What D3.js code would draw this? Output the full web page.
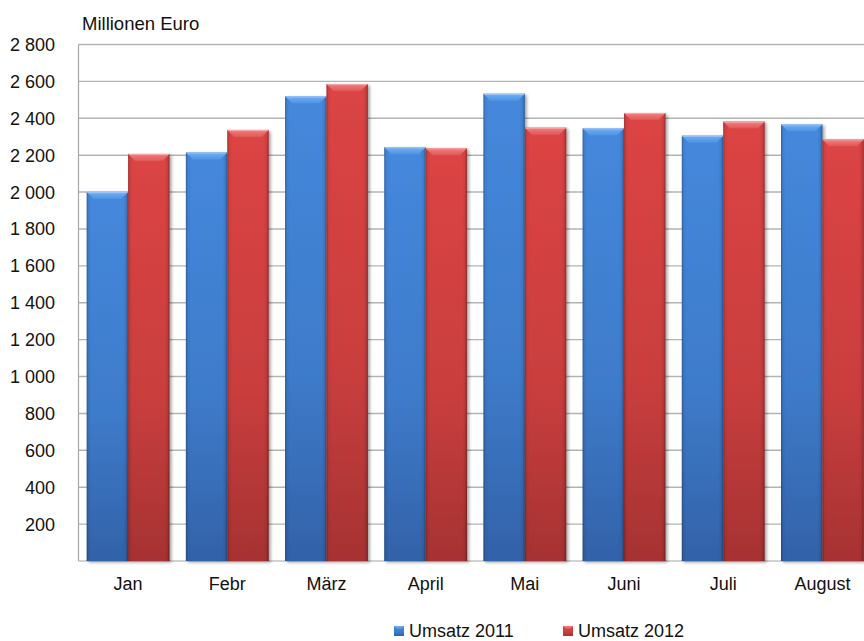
<!DOCTYPE html>
<html>
<head>
<meta charset="utf-8">
<script src="https://cdn.jsdelivr.net/npm/d3@7"></script>
<style>
  html, body { margin: 0; padding: 0; background: #fff; }
  svg { display: block; }
  text { font-family: "Liberation Sans", Arial, sans-serif; fill: #111; }
</style>
</head>
<body>
<svg id="chart" width="864" height="641"></svg>
<script>
const categories = ["Jan", "Febr", "März", "April", "Mai", "Juni", "Juli", "August"];
const seriesNames = ["Umsatz 2011", "Umsatz 2012"];
const umsatz2011 = [2000, 2215, 2519, 2243, 2533, 2346, 2306, 2367];
const umsatz2012 = [2207, 2337, 2586, 2238, 2349, 2429, 2382, 2286];
const yTicks = [200, 400, 600, 800, 1000, 1200, 1400, 1600, 1800, 2000, 2200, 2400, 2600, 2800];
const yTitle = "Millionen Euro";

const seriesValues = [umsatz2011, umsatz2012];
const palette = [
  { top: "#4588dc", bottom: "#3262a8", bevel: "#72b0f5", bevelDark: "#4f93e4" },
  { top: "#dc4444", bottom: "#a63232", bevel: "#f58080", bevelDark: "#e05757" }
];

const svg = d3.select("#chart");
const W = 864, H = 641;
const plot = { left: 78.5, right: 872, top: 44.5, bottom: 561 };

const fmt = d3.formatLocale({ decimal: ",", thousands: " ", grouping: [3], currency: ["", "€"] }).format(",d");

const x0 = d3.scaleBand().domain(categories).range([plot.left, plot.right]).paddingInner(0).paddingOuter(0);
const gap = x0.bandwidth() * 0.165;
const x1 = d3.scaleBand().domain(seriesNames).range([gap / 2, x0.bandwidth() - gap / 2]).padding(0);
const y = d3.scaleLinear().domain([0, 2800]).range([plot.bottom, plot.top]);

// defs
const defs = svg.append("defs");
palette.forEach((p, i) => {
  const g = defs.append("linearGradient").attr("id", "body" + i).attr("x1", 0).attr("y1", 0).attr("x2", 0).attr("y2", 1);
  g.append("stop").attr("offset", "0%").attr("stop-color", p.top);
  g.append("stop").attr("offset", "60%").attr("stop-color", d3.interpolateRgb(p.top, p.bottom)(0.35));
  g.append("stop").attr("offset", "100%").attr("stop-color", p.bottom);
  const b = defs.append("linearGradient").attr("id", "bevel" + i).attr("x1", 0).attr("y1", 0).attr("x2", 0).attr("y2", 1);
  b.append("stop").attr("offset", "0%").attr("stop-color", p.bevel);
  b.append("stop").attr("offset", "100%").attr("stop-color", p.bevelDark);
});
const edge = defs.append("linearGradient").attr("id", "edge").attr("x1", 0).attr("y1", 0).attr("x2", 1).attr("y2", 0);
edge.append("stop").attr("offset", "0%").attr("stop-color", "#000").attr("stop-opacity", 0.28);
edge.append("stop").attr("offset", "5%").attr("stop-color", "#000").attr("stop-opacity", 0.05);
edge.append("stop").attr("offset", "12%").attr("stop-color", "#000").attr("stop-opacity", 0);
edge.append("stop").attr("offset", "88%").attr("stop-color", "#000").attr("stop-opacity", 0);
edge.append("stop").attr("offset", "95%").attr("stop-color", "#000").attr("stop-opacity", 0.08);
edge.append("stop").attr("offset", "100%").attr("stop-color", "#000").attr("stop-opacity", 0.35);
const shadow = defs.append("filter").attr("id", "shadow").attr("x", "-20%").attr("y", "-5%").attr("width", "150%").attr("height", "115%");
shadow.append("feDropShadow").attr("dx", 2).attr("dy", 1.5).attr("stdDeviation", 1.6).attr("flood-color", "#000").attr("flood-opacity", 0.35);

// gridlines
svg.append("g").selectAll("line").data(yTicks).join("line")
  .attr("x1", plot.left).attr("x2", W)
  .attr("y1", d => y(d)).attr("y2", d => y(d))
  .attr("stroke", "#b3b3b3").attr("stroke-width", 1.4);

// axes
svg.append("line").attr("x1", plot.left).attr("x2", plot.left).attr("y1", plot.top).attr("y2", plot.bottom)
  .attr("stroke", "#a6a6a6").attr("stroke-width", 1.2);
svg.append("line").attr("x1", plot.left).attr("x2", W).attr("y1", plot.bottom).attr("y2", plot.bottom)
  .attr("stroke", "#a6a6a6").attr("stroke-width", 1.2);

// y labels
svg.append("g").selectAll("text").data(yTicks).join("text")
  .attr("x", 55).attr("y", d => y(d)).attr("dy", "0.36em")
  .attr("text-anchor", "end").attr("font-size", 18)
  .text(d => fmt(d));

svg.append("text").attr("x", 82).attr("y", 30).attr("font-size", 18.5).text(yTitle);

// bars
const groups = svg.append("g").selectAll("g").data(categories).join("g")
  .attr("transform", c => `translate(${x0(c)},0)`);

groups.each(function (c, ci) {
  const g = d3.select(this);
  seriesNames.forEach((s, si) => {
    const v = seriesValues[si][ci];
    const bx = x1(s), bw = x1.bandwidth(), by = y(v), bh = y(0) - y(v);
    const bar = g.append("g").attr("filter", "url(#shadow)");
    bar.append("rect").attr("x", bx).attr("y", by).attr("width", bw).attr("height", bh)
      .attr("fill", `url(#body${si})`);
    bar.append("rect").attr("x", bx).attr("y", by).attr("width", bw).attr("height", bh)
      .attr("fill", "url(#edge)");
    const b = 7;
    bar.append("polygon")
      .attr("points", [[bx, by], [bx + bw, by], [bx + bw - b, by + b], [bx + b, by + b]].map(p => p.join(",")).join(" "))
      .attr("fill", `url(#bevel${si})`);
    bar.append("line").attr("x1", bx + 0.5).attr("x2", bx + bw - 0.5).attr("y1", by + 0.6).attr("y2", by + 0.6)
      .attr("stroke", "#fff").attr("stroke-opacity", 0.35).attr("stroke-width", 1);
  });
});

// x labels
svg.append("g").selectAll("text").data(categories).join("text")
  .attr("x", c => x0(c) + x0.bandwidth() / 2).attr("y", 590)
  .attr("text-anchor", "middle").attr("font-size", 18)
  .text(c => c);

// legend
const legendX = [394, 563];
const leg = svg.append("g").selectAll("g").data(seriesNames).join("g")
  .attr("transform", (s, i) => `translate(${legendX[i]},626)`);
leg.append("rect").attr("x", 0).attr("y", 0).attr("width", 10).attr("height", 10)
  .attr("fill", (s, i) => `url(#body${i})`);
leg.append("polygon").attr("points", "0,0 10,0 7,3 3,3").attr("fill", (s, i) => `url(#bevel${i})`);
leg.append("text").attr("x", 15).attr("y", 10.5).attr("font-size", 18).text(s => s);
</script>
</body>
</html>
